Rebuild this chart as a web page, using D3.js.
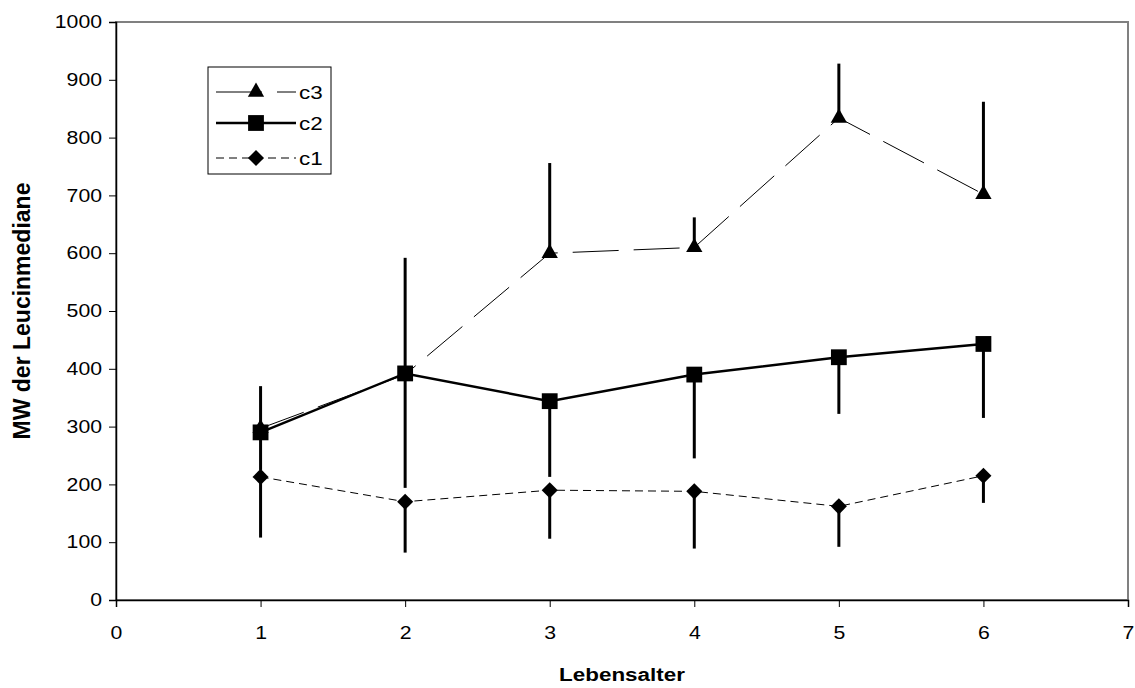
<!DOCTYPE html>
<html>
<head>
<meta charset="utf-8">
<script src="https://cdn.jsdelivr.net/npm/d3@7"></script>
<style>
  body { margin: 0; background: #fff; }
  svg text { font-family: Arial, "Liberation Sans", sans-serif; fill: #000; }
</style>
</head>
<body>
<svg id="chart" width="1135" height="688"></svg>
<script>
// ========= Data =========
const ages = [1, 2, 3, 4, 5, 6];

const c3Mean = [297, 390, 600, 610, 834, 702];
const c3Upper = [370, 592, 756, 662, 928, 862];

const c2Mean = [290, 392, 344, 390, 420, 443];
const c2Lower = [225, 194, 213, 245, 322, 315];

const c1Mean = [213, 170, 190, 188, 162, 215];
const c1Lower = [108, 82, 106, 89, 92, 168];

const xTicks = [0, 1, 2, 3, 4, 5, 6, 7];
const yTicks = [0, 100, 200, 300, 400, 500, 600, 700, 800, 900, 1000];

const series = [
  {name: 'c3', mean: c3Mean, err: c3Upper, symbol: d3.symbolTriangle, size: 115, width: 1, dash: '46,15'},
  {name: 'c2', mean: c2Mean, err: c2Lower, symbol: d3.symbolSquare, size: 250, width: 2.5, dash: null},
  {name: 'c1', mean: c1Mean, err: c1Lower, symbol: d3.symbolDiamond2, size: 165, width: 1, dash: '8,5'}
];

// ========= Layout =========
const plotLeft = 116, plotTop = 22, plotRight = 1128, plotBottom = 600;
const stretch = 1.18; // text in the original is drawn a bit wide
const svg = d3.select('#chart');

const x = d3.scaleLinear().domain([0, 7]).range([plotLeft, plotRight]);
const y = d3.scaleLinear().domain([0, 1000]).range([plotBottom, plotTop]);

// plot frame (gray)
svg.append('rect')
  .attr('x', plotLeft).attr('y', plotTop)
  .attr('width', plotRight - plotLeft).attr('height', plotBottom - plotTop)
  .attr('fill', 'none')
  .attr('stroke', '#808080')
  .attr('stroke-width', 2);

// ========= Axes =========
const xAxis = svg.append('g')
  .attr('transform', `translate(0,${plotBottom})`)
  .call(d3.axisBottom(x).tickValues(xTicks).tickSize(7).tickPadding(19).tickFormat(d3.format('d')));

const yAxis = svg.append('g')
  .attr('transform', `translate(${plotLeft},0)`)
  .call(d3.axisLeft(y).tickValues(yTicks).tickSize(7).tickPadding(8).tickFormat(d3.format('d')));

[xAxis, yAxis].forEach(g => {
  g.select('.domain').attr('stroke', '#000').attr('stroke-width', 1.5);
  g.selectAll('.tick line').attr('stroke', '#000');
  g.selectAll('.tick text')
    .style('font-size', '18px')
    .attr('fill', '#000')
    .attr('transform', `scale(${stretch},1)`);
});
yAxis.selectAll('.tick text').attr('x', -14 / stretch);

svg.append('g')
  .attr('transform', `translate(${(plotLeft + plotRight) / 2},681)`)
  .append('text')
  .attr('transform', `scale(${stretch},1)`)
  .attr('text-anchor', 'middle')
  .style('font-size', '19px')
  .style('font-weight', 'bold')
  .text('Lebensalter');

svg.append('text')
  .attr('transform', `translate(30,${(plotTop + plotBottom) / 2}) rotate(-90)`)
  .attr('text-anchor', 'middle')
  .style('font-size', '23px')
  .style('font-weight', 'bold')
  .text('MW der Leucinmediane');

// ========= Series =========
const line = d3.line()
  .x((d, i) => x(ages[i]))
  .y(d => y(d));

series.forEach(s => {
  // error bars
  svg.append('g').selectAll('line')
    .data(s.mean)
    .enter()
    .append('line')
    .attr('x1', (d, i) => x(ages[i]))
    .attr('x2', (d, i) => x(ages[i]))
    .attr('y1', d => y(d))
    .attr('y2', (d, i) => y(s.err[i]))
    .attr('stroke', '#000')
    .attr('stroke-width', 3);
});

series.forEach(s => {
  svg.append('path')
    .datum(s.mean)
    .attr('d', line)
    .attr('fill', 'none')
    .attr('stroke', '#000')
    .attr('stroke-width', s.width)
    .attr('stroke-dasharray', s.dash);

  svg.append('g').selectAll('path')
    .data(s.mean)
    .enter()
    .append('path')
    .attr('transform', (d, i) => `translate(${x(ages[i])},${y(d)})`)
    .attr('d', d3.symbol().type(s.symbol).size(s.size))
    .attr('fill', '#000');
});

// ========= Legend =========
const legend = svg.append('g').attr('transform', 'translate(208,67)');
legend.append('rect')
  .attr('width', 123).attr('height', 107)
  .attr('fill', '#fff')
  .attr('stroke', '#000')
  .attr('stroke-width', 1);

const legendY = [25, 56, 91];
series.forEach((s, i) => {
  const row = legend.append('g').attr('transform', `translate(0,${legendY[i]})`);
  row.append('line')
    .attr('x1', 8).attr('x2', 88)
    .attr('stroke', '#000')
    .attr('stroke-width', s.width)
    .attr('stroke-dasharray', s.dash);
  row.append('path')
    .attr('transform', 'translate(48,0)')
    .attr('d', d3.symbol().type(s.symbol).size(s.size))
    .attr('fill', '#000');
  row.append('g')
    .attr('transform', 'translate(91,7)')
    .append('text')
    .attr('transform', `scale(${stretch},1)`)
    .style('font-size', '19px')
    .text(s.name);
});
</script>
</body>
</html>
